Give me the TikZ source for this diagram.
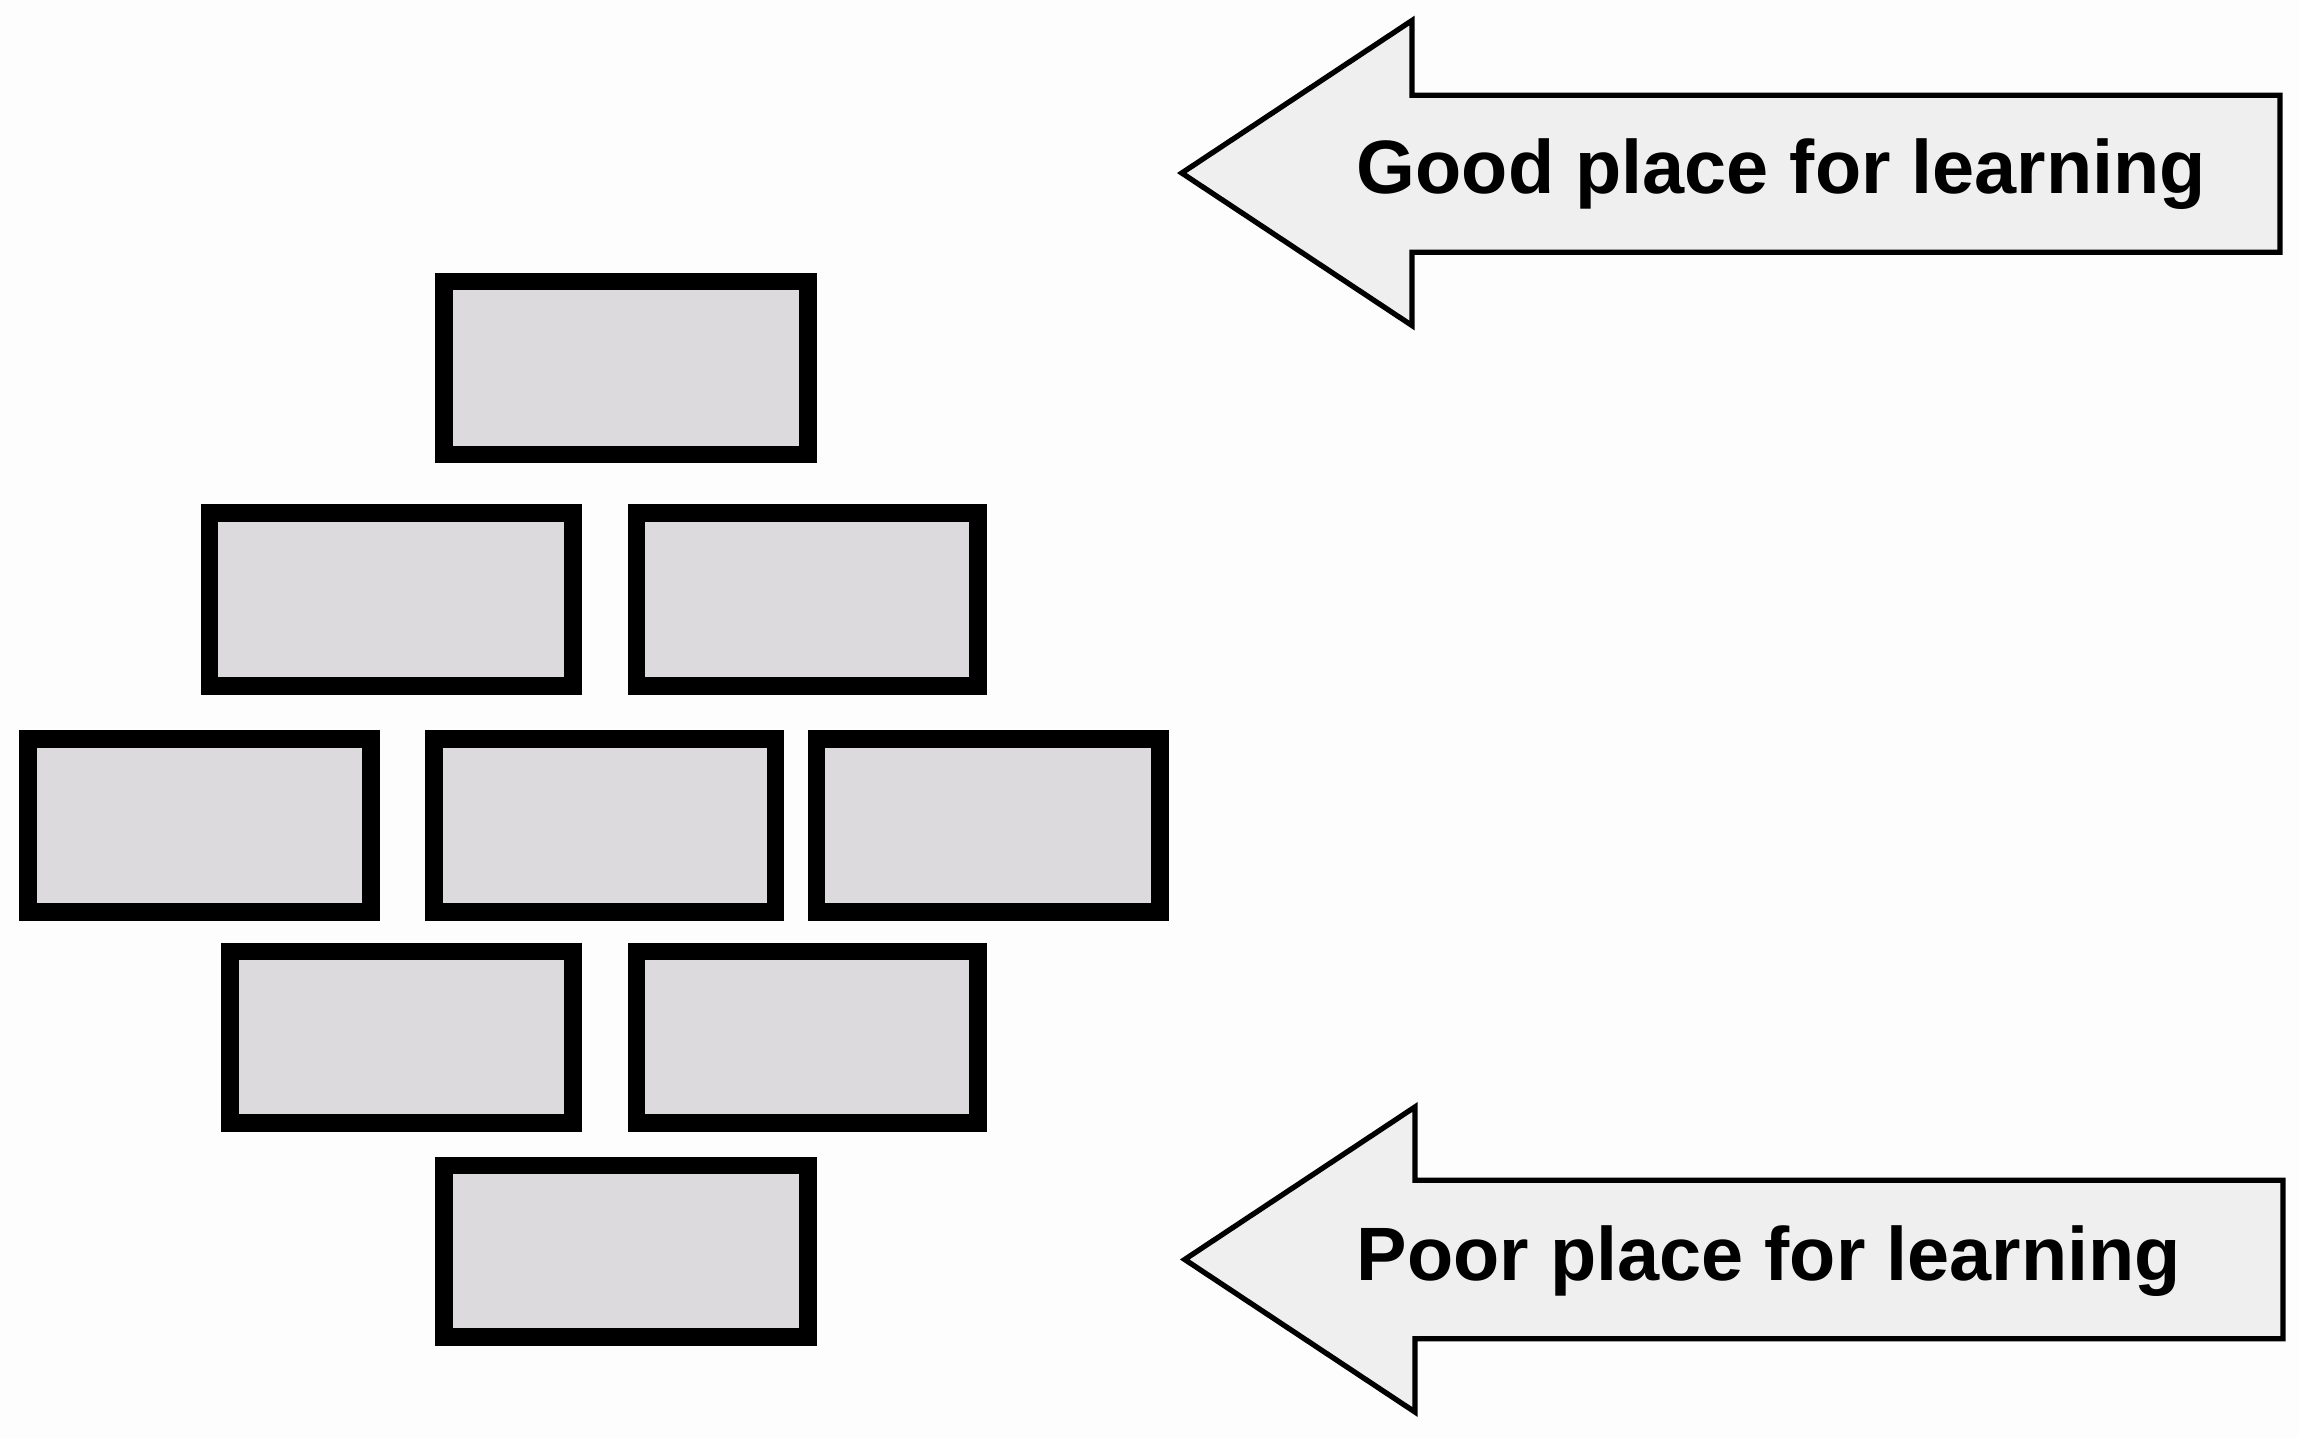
\documentclass[tikz,border=0pt]{standalone}
\usepackage{fontspec}
\setmainfont{Liberation Sans}
\usetikzlibrary{fit}
\definecolor{bg}{HTML}{FDFDFD}
\definecolor{brickfill}{HTML}{DCDADC}
\definecolor{arrowfill}{HTML}{F0EFF0}
\begin{document}
\begin{tikzpicture}[x=0.5pt,y=-0.5pt,
  brick/.style={draw=black, fill=brickfill, line width=6pt, inner sep=0pt, rectangle},
  bigarrow/.style={draw=black, fill=arrowfill, line width=1.8pt, line join=miter},
  label/.style={anchor=base west, inner sep=0pt, font=\fontsize{25.8}{30}\selectfont\bfseries}]
\fill[bg] (0,0) rectangle (1568,981);
\useasboundingbox (0,0) rectangle (1568,981);
% bricks
\node[brick, fit={(303,192) (551,310)}] (t) {};
\node[brick, fit={(143,350) (391,468)}] (r2a) {};
\node[brick, fit={(434,350) (667,468)}] (r2b) {};
\node[brick, fit={(19,504) (253,622)}] (r3a) {};
\node[brick, fit={(296,504) (529,622)}] (r3b) {};
\node[brick, fit={(557,504) (791,622)}] (r3c) {};
\node[brick, fit={(157,649) (391,766)}] (r4a) {};
\node[brick, fit={(434,649) (667,766)}] (r4b) {};
\node[brick, fit={(303,795) (551,912)}] (r5) {};
% arrows
\draw[bigarrow] (806,118) -- (963,14) -- (963,65) -- (1555,65) -- (1555,172) -- (963,172) -- (963,222) -- cycle;
\draw[bigarrow] (808,859) -- (965,755) -- (965,805) -- (1557,805) -- (1557,913) -- (965,913) -- (965,963) -- cycle;
\node[label] (good) at (925,132) {Good place for learning};
\node[label] (poor) at (925,873) {Poor place for learning};
\end{tikzpicture}
\end{document}
